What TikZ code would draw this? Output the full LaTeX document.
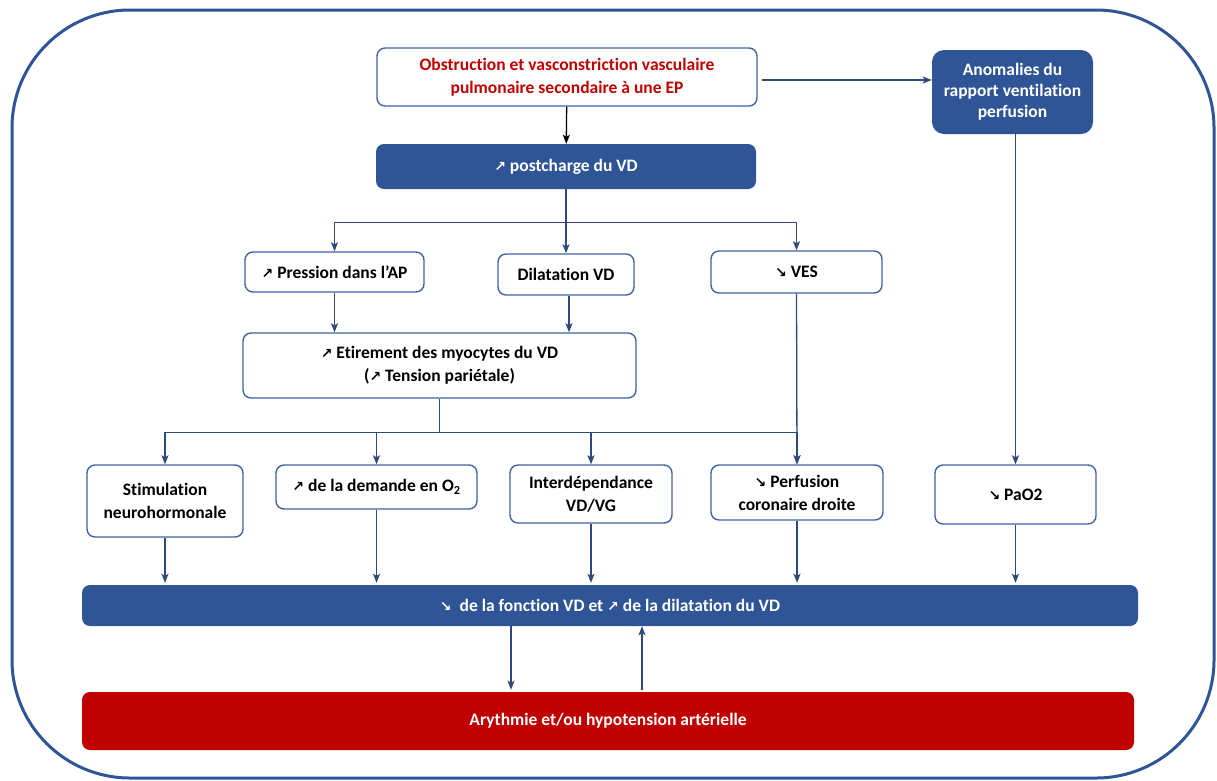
\documentclass[tikz,border=0pt]{standalone}
\usepackage{fontspec}
\setmainfont{Carlito}[Ligatures=NoCommon]
\newfontfamily\arrfont{DejaVu Sans}
\usetikzlibrary{arrows.meta}
\definecolor{bblue}{HTML}{2F5597}
\definecolor{lblue}{HTML}{41649E}
\definecolor{cblue}{HTML}{2E4A7D}
\definecolor{rred}{HTML}{C00000}
\newcommand{\upar}{{\arrfont\bfseries\fontsize{14}{14}\selectfont ↗}}
\newcommand{\dnar}{{\arrfont\bfseries\fontsize{14}{14}\selectfont ↘}}
\tikzset{
  x=1pt, y=1pt,
  frame/.style={draw=bblue, line width=3pt, rounded corners=118pt},
  txt/.style={font=\bfseries\fontsize{17.5}{23}\selectfont},
  wbox/.style={txt, draw=lblue, line width=1.4pt, fill=white, rounded corners=8pt,
    inner sep=0pt, align=center, text=black},
  bbox/.style={txt, draw=none, fill=bblue, rounded corners=8pt, inner sep=0pt,
    align=center, text=white},
  rbox/.style={txt, draw=none, fill=rred, rounded corners=8pt, inner sep=0pt,
    align=center, text=white},
  conn/.style={draw=cblue, line width=1.3pt, -{Stealth[length=9pt,width=7pt,inset=2pt]}},
  connk/.style={draw=black, line width=1.3pt, -{Stealth[length=9pt,width=7pt,inset=2pt]}},
  plain/.style={draw=cblue, line width=1.3pt},
}
\begin{document}
\begin{tikzpicture}
\useasboundingbox (0,0) rectangle (1217,-780);
\draw[frame] (12,-10) rectangle (1214,-778);

\node[wbox, minimum width=380, minimum height=58, text=rred] (obs) at (567,-77)
  {Obstruction et vasconstriction vasculaire\\pulmonaire secondaire à une EP};
\node[bbox, minimum width=380, minimum height=45] (post) at (566,-166.5) {\upar{} postcharge du VD};
\node[bbox, rounded corners=12pt, minimum width=161, minimum height=84, font=\bfseries\fontsize{17.5}{21}\selectfont] (anom) at (1012.5,-92)
  {Anomalies du\\rapport ventilation\\perfusion};

\node[wbox, minimum width=179, minimum height=40] (pres) at (334.5,-272) {\upar{} Pression dans l’AP};
\node[wbox, minimum width=136, minimum height=41] (dil) at (566,-274.5) {Dilatation VD};
\node[wbox, minimum width=171, minimum height=42] (ves) at (796.5,-272) {\dnar{} VES};

\node[wbox, minimum width=393, minimum height=65] (etir) at (439.5,-365.5)
  {\upar{} Etirement des myocytes du VD\\(\upar{} Tension pariétale)};

\node[wbox, minimum width=156, minimum height=72] (stim) at (165,-501) {Stimulation\\neurohormonale};
\node[wbox, minimum width=201, minimum height=44] (dem) at (376.5,-487) {\upar{} de la demande en O\textsubscript{2}};
\node[wbox, minimum width=162, minimum height=58] (inter) at (591,-494) {Interdépendance\\VD/VG};
\node[wbox, minimum width=172, minimum height=55] (perf) at (797,-492.5) {\dnar{} Perfusion\\coronaire droite};
\node[wbox, minimum width=161, minimum height=59] (pao) at (1015.5,-494.5) {\dnar{} PaO2};

\node[bbox, minimum width=1056, minimum height=41] (bar) at (610,-605.5)
  {\dnar{}\ \ de la fonction VD et \upar{} de la dilatation du VD};
\node[rbox, minimum width=1052, minimum height=58] (red) at (608,-721)
  {Arythmie et/ou hypotension artérielle};

% connectors
\draw[connk] (obs) -- (post);
\draw[conn, shorten <=4pt] ([yshift=-3pt]obs.east) -- ([yshift=-3pt]obs.east -| anom.west);

\coordinate (b1) at ([yshift=-33pt]post.south);
\draw[plain] (post.south) -- (b1);
\draw[conn] (b1) -| (pres.north);
\draw[conn] (b1) -- (dil.north);
\draw[conn] (b1) -| (ves.north);

\draw[conn] (pres.south) -- (pres.south |- etir.north);
\draw[conn] ([xshift=3pt]dil.south) -- ([xshift=3pt]dil.south |- etir.north);

\coordinate (b2) at ([yshift=-34pt]etir.south);
\draw[plain] (etir.south) -- (b2);
\draw[conn] (b2) -| (stim.north);
\draw[conn] (b2) -| (dem.north);
\draw[conn] (b2) -| (inter.north);
\draw[conn] (b2) -| (perf.north);
\draw[conn] (ves.south) -- (perf.north);

\draw[conn] (pao.north |- anom.south) -- (pao.north);

\draw[conn] (stim.south) -- ([yshift=2pt]stim.south |- bar.north);
\draw[conn] (dem.south) -- ([yshift=2pt]dem.south |- bar.north);
\draw[conn] (inter.south) -- ([yshift=2pt]inter.south |- bar.north);
\draw[conn] (perf.south) -- ([yshift=2pt]perf.south |- bar.north);
\draw[conn] (pao.south) -- ([yshift=2pt]pao.south |- bar.north);

\draw[conn] ([xshift=-99pt]bar.south) -- ([xshift=-99pt,yshift=2pt]bar.south |- red.north);
\draw[conn] ([xshift=32pt,yshift=2pt]bar.south |- red.north) -- ([xshift=32pt]bar.south);
\end{tikzpicture}
\end{document}
